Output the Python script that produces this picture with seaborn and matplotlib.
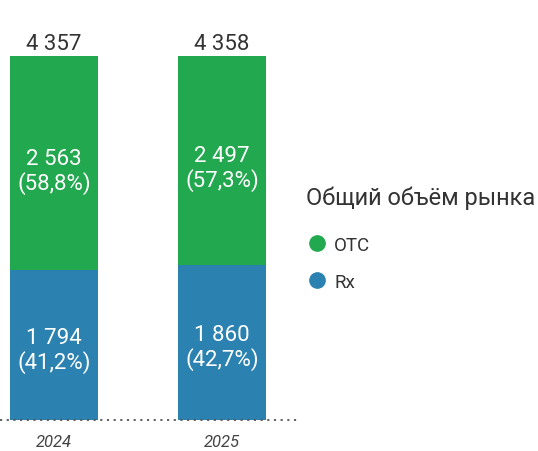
import pandas as pd
import seaborn as sns
import matplotlib.pyplot as plt
from matplotlib.lines import Line2D

# ===== данные =====
years = ['2024', '2025']
rx = [1794, 1860]
otc = [2563, 2497]
total = [4357, 4358]
rx_share = ['41,2%', '42,7%']
otc_share = ['58,8%', '57,3%']

GREEN = '#22a84e'
BLUE = '#2b82b0'

df = pd.DataFrame({'year': years, 'rx': rx, 'otc': otc, 'total': total})

sns.set_style('white')
plt.rcParams['font.family'] = ['Roboto', 'DejaVu Sans']

fig = plt.figure(figsize=(5.38, 4.52), dpi=100)
# оси: от 0 до ~298 px по x, низ на y=421
ax = fig.add_axes([0, 31 / 452, 298 / 538, 400 / 452])

# стек: сначала полная высота зелёным, поверх синий Rx
sns.barplot(data=df, x='year', y='total', color=GREEN, width=0.524,
            saturation=1, linewidth=0, ax=ax)
sns.barplot(data=df, x='year', y='rx', color=BLUE, width=0.524,
            saturation=1, linewidth=0, ax=ax)

def fmt(v):
    return f"{v:,}".replace(',', ' ')

for i in range(len(years)):
    ax.annotate(fmt(total[i]), (i, total[i]), xytext=(0, 1.5),
                textcoords='offset points', ha='center', va='bottom',
                fontsize=16, color='#333333')
    ax.annotate(fmt(otc[i]) + f"\n({otc_share[i]})", (i, rx[i] + otc[i] / 2),
                xytext=(0, -5.5), textcoords='offset points',
                ha='center', va='center', fontsize=16, color='white',
                linespacing=1.1)
    ax.annotate(fmt(rx[i]) + f"\n({rx_share[i]})", (i, rx[i] / 2),
                xytext=(0, -3.5), textcoords='offset points',
                ha='center', va='center', fontsize=16, color='white',
                linespacing=1.1)

ax.set_xlim(-54 / 168, (298 - 54) / 168)
ax.set_ylim(0, 4357 * 400 / 364)
ax.axhline(0, color='#555555', lw=1.3, ls=(0, (1.2, 2.5)), clip_on=False)
sns.despine(ax=ax, left=True, bottom=True)
ax.set_yticks([])
ax.set_xlabel('')
ax.set_ylabel('')
ax.tick_params(axis='x', length=0, pad=10)
for lbl in ax.get_xticklabels():
    lbl.set_fontstyle('italic')
    lbl.set_fontsize(12)
    lbl.set_color('#444444')

# легенда
handles = [
    Line2D([], [], marker='o', ls='', color=GREEN, markersize=11),
    Line2D([], [], marker='o', ls='', color=BLUE, markersize=11),
]
leg = fig.legend(handles, ['OTC', 'Rx'], title='Общий объём рынка',
                 loc='upper left', bbox_to_anchor=(306 / 538, 1 - 187 / 452),
                 frameon=False, fontsize=13.5, title_fontsize=17,
                 handletextpad=0.3, labelspacing=1.0, borderaxespad=0,
                 handlelength=1.2, borderpad=0)
leg._legend_box.align = 'left'
leg._legend_box.sep = 19
leg.get_title().set_color('#333333')
for t in leg.get_texts():
    t.set_color('#333333')

fig.savefig('out.png', dpi=100)
